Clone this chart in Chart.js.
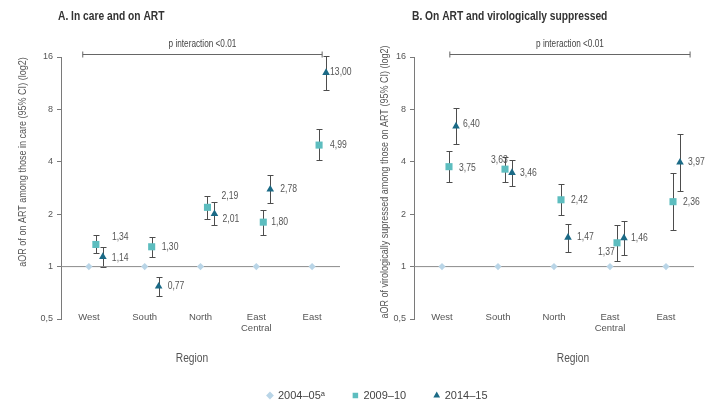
<!DOCTYPE html>
<html><head><meta charset="utf-8">
<script src="https://cdn.jsdelivr.net/npm/chart.js@4/dist/chart.umd.min.js"></script>
<style>
body{margin:0;background:#fff;width:725px;height:416px;overflow:hidden;position:relative}
canvas{position:absolute;display:block}
</style></head><body>
<canvas id="cA" width="362" height="375" style="left:0;top:0"></canvas>
<canvas id="cB" width="363" height="375" style="left:362px;top:0"></canvas>
<canvas id="cL" width="725" height="160" style="left:0;top:362px"></canvas>
<script>
// ---------- data ----------
const regions = ['West', 'South', 'North', ['East', 'Central'], 'East'];
const yTicks = [0.5, 1, 2, 4, 8, 16];
const yTickLabels = ['0,5', '1', '2', '4', '8', '16'];
const periods = ['2004–05ᵃ', '2009–10', '2014–15'];

const titleA = 'A. In care and on ART';
const titleB = 'B. On ART and virologically suppressed';
const yTitleA = 'aOR of on ART among those in care (95% CI) (log2)';
const yTitleB = 'aOR of virologically supressed among those on ART (95% CI) (log2)';
const xTitle = 'Region';
const pText = 'p interaction <0.01';

// Panel A
const refA   = [1, 1, 1, 1, 1];
const a2009   = [1.34, 1.30, 2.19, 1.80, 4.99];
const a2009Lo = [1.19, 1.14, 1.88, 1.52, 4.09];
const a2009Hi = [1.51, 1.48, 2.53, 2.12, 6.16];
const a2014   = [1.14, 0.77, 2.01, 2.78, 13.00];
const a2014Lo = [1.00, 0.68, 1.74, 2.33, 10.4];
const a2014Hi = [1.29, 0.87, 2.35, 3.34, 16.2];

// Panel B
const refB   = [1, 1, 1, 1, 1];
const b2009   = [3.75, 3.63, 2.42, 1.37, 2.36];
const b2009Lo = [3.07, 3.07, 1.97, 1.08, 1.62];
const b2009Hi = [4.61, 4.29, 2.98, 1.74, 3.47];
const b2014   = [6.40, 3.46, 1.47, 1.46, 3.97];
const b2014Lo = [5.05, 2.91, 1.22, 1.17, 2.73];
const b2014Hi = [8.10, 4.12, 1.76, 1.82, 5.81];

// ---------- styles ----------
const FF = "'Liberation Sans', Arial, sans-serif";
const SQ = 0.82; // horizontal condensing of hand-drawn text
const C_REF = '#b9d5e7', C_09 = '#5dbdbf', C_14 = '#1b6a86';
const AXIS = '#7a7a7a', TXT = '#555';

function condText(ctx, t, x, y, rot) {
  ctx.save();
  ctx.translate(x, y);
  if (rot) ctx.rotate(rot);
  ctx.scale(SQ, 1);
  ctx.fillText(t, 0, 0);
  ctx.restore();
}

const errorBars = {
  id: 'errorBars',
  beforeDatasetsDraw(chart) {
    const {ctx, scales: {y}} = chart;
    chart.data.datasets.forEach((ds, di) => {
      if (!ds.ciLo) return;
      const meta = chart.getDatasetMeta(di);
      ctx.save();
      ctx.strokeStyle = '#4d4d4d'; ctx.lineWidth = 1;
      meta.data.forEach((pt, i) => {
        const px = Math.round(pt.x) + 0.5;
        const yl = Math.round(y.getPixelForValue(ds.ciLo[i])) + 0.5;
        const yh = Math.round(y.getPixelForValue(ds.ciHi[i])) + 0.5;
        ctx.beginPath();
        ctx.moveTo(px, yh); ctx.lineTo(px, yl);
        ctx.moveTo(px - 3, yh); ctx.lineTo(px + 3, yh);
        ctx.moveTo(px - 3, yl); ctx.lineTo(px + 3, yl);
        ctx.stroke();
      });
      ctx.restore();
    });
  }
};

const valueLabels = {
  id: 'valueLabels',
  afterDatasetsDraw(chart) {
    const ctx = chart.ctx;
    chart.data.datasets.forEach((ds, di) => {
      if (!ds.labelOffsets) return;
      const meta = chart.getDatasetMeta(di);
      ctx.save();
      ctx.font = '10.5px ' + FF; ctx.fillStyle = TXT;
      ctx.textAlign = 'left'; ctx.textBaseline = 'middle';
      meta.data.forEach((pt, i) => {
        const [dx, dy] = ds.labelOffsets[i];
        const v = ds.data[i].y;
        condText(ctx, v.toFixed(2).replace('.', ','), pt.x + dx, pt.y + dy);
      });
      ctx.restore();
    });
  }
};

const decor = {
  id: 'decor',
  afterDraw(chart, args, o) {
    const ctx = chart.ctx; const {x, y} = chart.scales;
    ctx.save();
    ctx.fillStyle = '#333'; ctx.font = 'bold 12.5px ' + FF;
    ctx.textAlign = 'left'; ctx.textBaseline = 'middle';
    condText(ctx, o.title, o.titleX, 17);
    const bx0 = x.getPixelForValue(o.bracket[0]);
    const bx1 = x.getPixelForValue(o.bracket[1]);
    const by = Math.round(y.getPixelForValue(o.bracketY)) + 0.5;
    ctx.strokeStyle = '#666'; ctx.lineWidth = 1;
    ctx.beginPath();
    ctx.moveTo(bx0, by); ctx.lineTo(bx1, by);
    ctx.moveTo(bx0, by - 3); ctx.lineTo(bx0, by + 3);
    ctx.moveTo(bx1, by - 3); ctx.lineTo(bx1, by + 3);
    ctx.stroke();
    ctx.font = '10px ' + FF; ctx.fillStyle = '#444'; ctx.textAlign = 'center';
    condText(ctx, pText, (bx0 + bx1) / 2, by - 10);
    ctx.font = '11px ' + FF; ctx.fillStyle = TXT; ctx.textAlign = 'center';
    condText(ctx, o.yTitle, o.yTitleX, o.yTitleY, -Math.PI / 2);
    ctx.font = '12.5px ' + FF; ctx.fillStyle = TXT; ctx.textAlign = 'center';
    condText(ctx, xTitle, o.xTitleX, 359);
    ctx.restore();
  }
};

const toPts = (vals, off) => vals.map((v, i) => ({x: i + 0.5 + off, y: v}));

function makePanel(id, p) {
  return new Chart(document.getElementById(id), {
    type: 'scatter',
    data: {
      datasets: [
        {type: 'line', data: [{x: 0, y: 1}, {x: 5, y: 1}], borderColor: '#8c8c8c', borderWidth: 1,
         pointRadius: 0, order: 10},
        {label: periods[0], data: toPts(p.ref, 0), pointStyle: 'rectRot', pointRadius: 3.6,
         backgroundColor: C_REF, borderWidth: 0, order: 2},
        {label: periods[1], data: toPts(p.s1, 0.125), pointStyle: 'rect', pointRadius: 5,
         backgroundColor: C_09, borderWidth: 0, order: 1, ciLo: p.s1Lo, ciHi: p.s1Hi, labelOffsets: p.off1},
        {label: periods[2], data: toPts(p.s2, 0.25), pointStyle: 'triangle', pointRadius: 4.4,
         backgroundColor: C_14, borderWidth: 0, order: 0, ciLo: p.s2Lo, ciHi: p.s2Hi, labelOffsets: p.off2}
      ]
    },
    options: {
      responsive: false, animation: false, devicePixelRatio: 1,
      layout: {padding: {top: 57, right: p.padRight, left: 0, bottom: 0}},
      plugins: {
        legend: {display: false}, tooltip: {enabled: false},
        decor: {title: p.title, titleX: p.titleX, bracket: p.bracket, bracketY: 16.6,
                yTitle: p.yTitle, yTitleX: 23, yTitleY: p.yTitleY, xTitleX: p.xTitleX}
      },
      scales: {
        x: {
          type: 'linear', min: 0, max: 5,
          afterBuildTicks: s => { s.ticks = regions.map((r, i) => ({value: i + 0.5})); },
          afterFit: s => { s.height = 56; },
          ticks: {callback: (v, i) => regions[i], font: {family: FF, size: 9.5}, color: TXT,
                  mirror: true, padding: -4, maxRotation: 0, autoSkip: false},
          grid: {display: false, drawTicks: false},
          border: {display: false}
        },
        y: {
          type: 'logarithmic', min: 0.5, max: 16,
          afterBuildTicks: s => { s.ticks = yTicks.map(v => ({value: v})); },
          afterFit: s => { s.width = p.yWidth; },
          ticks: {callback: (v, i) => yTickLabels[i], font: {family: FF, size: 9}, color: TXT,
                  padding: 4, autoSkip: false},
          grid: {drawOnChartArea: false, drawTicks: true, tickLength: 4, color: AXIS},
          border: {color: AXIS, width: 1}
        }
      }
    },
    plugins: [errorBars, valueLabels, decor]
  });
}

makePanel('cA', {
  title: titleA, titleX: 58, yTitle: yTitleA, yTitleY: 162, xTitleX: 192,
  bracket: [0.39, 4.68], yWidth: 61, padRight: 22,
  ref: refA, s1: a2009, s1Lo: a2009Lo, s1Hi: a2009Hi, s2: a2014, s2Lo: a2014Lo, s2Hi: a2014Hi,
  off1: [[16, -7], [10, 0], [14, -11], [8, 0], [11, 0]],
  off2: [[9, 1], [9, 0], [8, 5], [10, 0], [4, -1]]
});

makePanel('cB', {
  title: titleB, titleX: 50, yTitle: yTitleB, yTitleY: 182, xTitleX: 211,
  bracket: [0.64, 4.93], yWidth: 52, padRight: 31,
  ref: refB, s1: b2009, s1Lo: b2009Lo, s1Hi: b2009Hi, s2: b2014, s2Lo: b2014Lo, s2Hi: b2014Hi,
  off1: [[10, 1], [-14, -9], [10, 0], [-19, 9], [10, 0]],
  off2: [[7, -2], [8, 0], [9, 0], [7, 0], [8, 0]]
});

// legend chart
new Chart(document.getElementById('cL'), {
  type: 'scatter',
  data: {
    datasets: [
      {label: periods[0], data: [], pointStyle: 'rectRot', backgroundColor: C_REF, borderWidth: 0},
      {label: periods[1], data: [], pointStyle: 'rect', backgroundColor: C_09, borderWidth: 0},
      {label: periods[2], data: [], pointStyle: 'triangle', backgroundColor: C_14, borderWidth: 0}
    ]
  },
  options: {
    responsive: false, animation: false, devicePixelRatio: 1,
    layout: {padding: {top: 0, left: 30}},
    scales: {x: {display: false}, y: {display: false}},
    plugins: {
      tooltip: {enabled: false},
      legend: {
        display: true, position: 'top',
        labels: {usePointStyle: true, boxWidth: 5, boxHeight: 5.5, padding: 28,
                 font: {family: FF, size: 11}, color: '#444'}
      }
    }
  }
});
</script>
</body></html>
